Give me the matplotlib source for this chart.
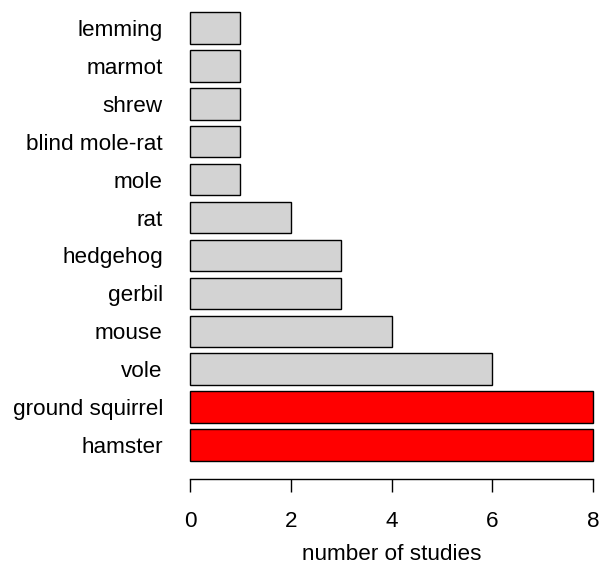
import matplotlib
matplotlib.use("Agg")
import matplotlib.pyplot as plt

categories = ["hamster", "ground squirrel", "vole", "mouse", "gerbil", "hedgehog",
              "rat", "mole", "blind mole-rat", "shrew", "marmot", "lemming"]
values = [8, 8, 6, 4, 3, 3, 2, 1, 1, 1, 1, 1]
highlight = ["hamster", "ground squirrel"]
xticks = [0, 2, 4, 6, 8]

plt.rcParams['font.family'] = ['Liberation Sans', 'DejaVu Sans']

W, H = 600, 568
fig = plt.figure(figsize=(W / 100, H / 100), dpi=100)
x0, x1 = 190, 593
ytop, ybot = 12, 461
ax = fig.add_axes([x0 / W, 1 - ybot / H, (x1 - x0) / W, (ybot - ytop) / H])

colors = ["#FF0000" if c in highlight else "#D3D3D3" for c in categories]
pos = list(range(len(categories)))
h = 1 / 1.2
ax.barh(pos, values, height=h, color=colors, edgecolor="black", linewidth=1.0, clip_on=False)
ax.set_ylim(-h / 2, len(categories) - 1 + h / 2)
ax.set_xlim(0, 8)

fs = 16.2
ax.set_yticks(pos)
ax.set_yticklabels(categories, fontsize=fs)
ax.tick_params(axis="y", length=0, pad=19.5)

for s in ["top", "right", "left"]:
    ax.spines[s].set_visible(False)
ax.spines["bottom"].set_position(("outward", 13))
ax.spines["bottom"].set_bounds(0, 8)
ax.spines["bottom"].set_linewidth(1.0)
ax.set_xticks(xticks)
ax.set_xticklabels([str(t) for t in xticks], fontsize=fs)
ax.tick_params(axis="x", length=9.4, width=1.0, pad=13.5)
ax.set_xlabel("number of studies", fontsize=fs, labelpad=8.5)

fig.savefig("out.png", dpi=100)
